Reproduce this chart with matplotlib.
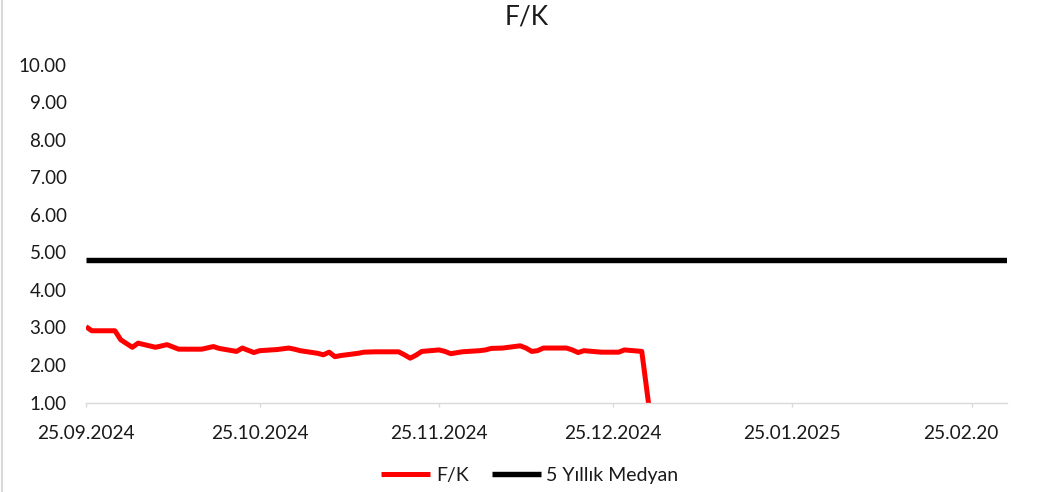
import matplotlib
matplotlib.use("Agg")
import matplotlib.pyplot as plt
import matplotlib.dates as mdates
from matplotlib.lines import Line2D
from matplotlib.transforms import Bbox, TransformedBbox
import pandas as pd

title = "F/K"
fk_label = "F/K"
median_label = "5 Yıllık Medyan"

fk_dates = ["2024-09-25", "2024-09-26", "2024-09-30", "2024-10-01", "2024-10-03",
            "2024-10-04", "2024-10-07", "2024-10-09", "2024-10-11", "2024-10-15",
            "2024-10-17", "2024-10-18", "2024-10-21", "2024-10-22", "2024-10-23",
            "2024-10-24", "2024-10-25", "2024-10-28", "2024-10-30", "2024-10-31",
            "2024-11-01", "2024-11-04", "2024-11-05", "2024-11-06", "2024-11-07",
            "2024-11-08", "2024-11-11", "2024-11-12", "2024-11-14", "2024-11-18",
            "2024-11-19", "2024-11-20", "2024-11-21", "2024-11-22", "2024-11-25",
            "2024-11-26", "2024-11-27", "2024-11-29", "2024-12-02", "2024-12-03",
            "2024-12-04", "2024-12-06", "2024-12-09", "2024-12-10", "2024-12-11",
            "2024-12-12", "2024-12-13", "2024-12-17", "2024-12-18", "2024-12-19",
            "2024-12-20", "2024-12-23", "2024-12-26", "2024-12-27", "2024-12-30",
            "2025-01-01"]
fk_values = [3.02, 2.91, 2.91, 2.67, 2.47,
             2.58, 2.47, 2.54, 2.42, 2.42,
             2.49, 2.44, 2.36, 2.45, 2.39,
             2.33, 2.38, 2.41, 2.45, 2.42,
             2.38, 2.31, 2.27, 2.34, 2.22,
             2.25, 2.31, 2.34, 2.35, 2.35,
             2.27, 2.18, 2.26, 2.36, 2.40,
             2.36, 2.30, 2.35, 2.38, 2.40,
             2.44, 2.45, 2.51, 2.45, 2.36,
             2.38, 2.45, 2.45, 2.40, 2.33,
             2.38, 2.34, 2.34, 2.40, 2.36,
             0.00]

median_dates = ["2024-09-25", "2025-03-03"]
median_values = [4.79, 4.79]

x_tick_dates = ["2024-09-25", "2024-10-25", "2024-11-25", "2024-12-25",
                "2025-01-25", "2025-02-25"]
y_ticks = [1, 2, 3, 4, 5, 6, 7, 8, 9, 10]
x_range = ["2024-09-25", "2025-03-03"]

plt.rcParams['font.family'] = ['Lato', 'DejaVu Sans']
text_color = '#1a1a1a'
grid_gray = '#d9d9d9'

W, H = 1039, 492
fig = plt.figure(figsize=(W / 100, H / 100), dpi=100)
left, right, bottom, top = 86 / W, 1006.5 / W, 1 - 402.5 / H, 1 - 64.5 / H
ax = fig.add_axes([left, bottom, right - left, top - bottom])

ax.plot(pd.to_datetime(fk_dates), fk_values, color='#ff0000', lw=3.6,
        solid_joinstyle='round', solid_capstyle='butt', label=fk_label)
ax.plot(pd.to_datetime(median_dates), median_values, color='black', lw=3.9,
        solid_capstyle='butt', label=median_label)

ax.set_ylim(1, 10)
ax.set_xlim(pd.Timestamp(x_range[0]), pd.Timestamp(x_range[1]))
ax.set_yticks(y_ticks)
ax.set_yticklabels([f"{v:.2f}" for v in y_ticks])
ax.set_xticks(pd.to_datetime(x_tick_dates))
ax.xaxis.set_major_formatter(mdates.DateFormatter('%d.%m.%Y'))

for s in ['top', 'right', 'left']:
    ax.spines[s].set_visible(False)
ax.spines['bottom'].set_color(grid_gray)
ax.spines['bottom'].set_linewidth(1.0)
ax.tick_params(axis='x', direction='out', length=3, width=1, color=grid_gray,
               labelsize=13.8, labelcolor=text_color, pad=13)
ax.tick_params(axis='y', length=0, labelsize=13.5, labelcolor=text_color, pad=14)

clip = TransformedBbox(Bbox([[0, 0], [997.5 / W, 1]]), fig.transFigure)
for t in ax.xaxis.get_major_ticks():
    t.label1.set_clip_box(clip)
    t.label1.set_clip_on(True)

fig.text(527 / W, 1 - 17 / H, title, ha='center', va='center', fontsize=19,
         color=text_color)

fig.legend(loc='center', bbox_to_anchor=(530 / W, 1 - 475 / H), ncol=2,
           frameon=False, handlelength=2.5, handletextpad=0.3,
           columnspacing=1.2, fontsize=14, labelcolor=text_color)

fig.add_artist(Line2D([2 / W, 2 / W], [0, 1], transform=fig.transFigure,
                      color=grid_gray, lw=1.5))

fig.savefig("out.png", dpi=100)
